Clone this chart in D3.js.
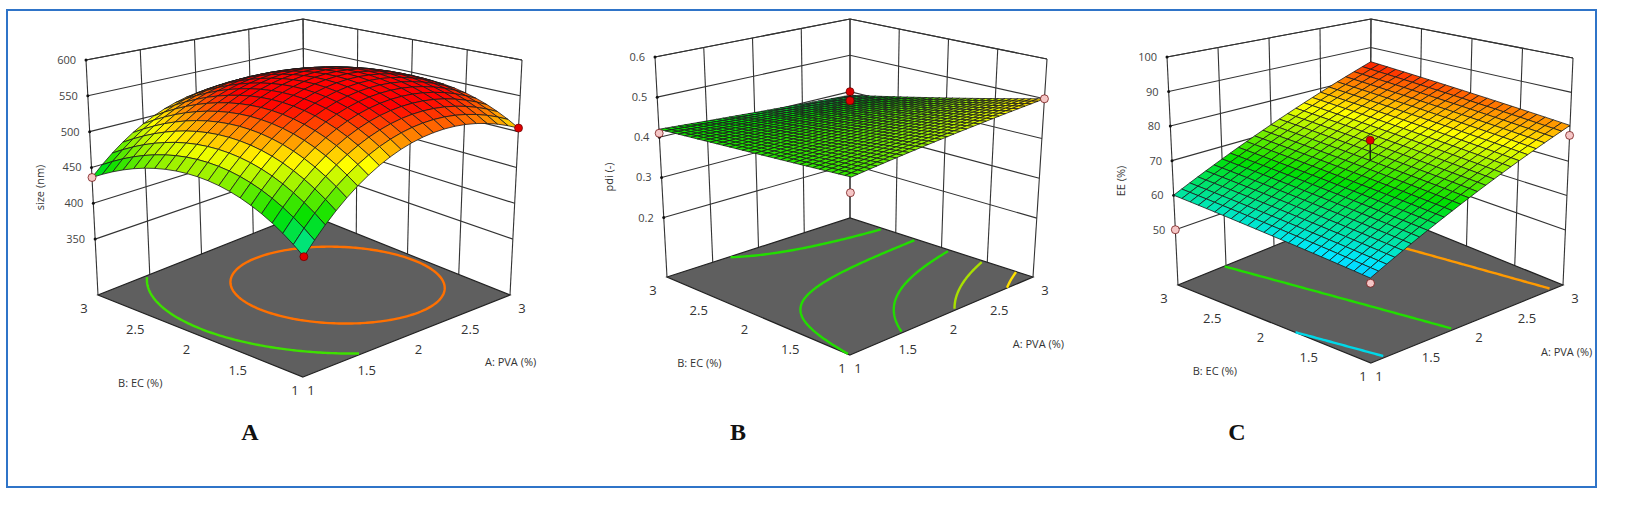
<!DOCTYPE html>
<html><head><meta charset="utf-8">
<script src="https://cdn.jsdelivr.net/npm/d3@7"></script>
<style>body{margin:0;background:#fff}svg{display:block}</style>
</head><body>
<svg id="c" width="1629" height="514"></svg>
<script>
// ---- data ----
const panelNames = ["A","B","C"];
const aTicks = [1,1.5,2,2.5,3];
const bTicks = [1,1.5,2,2.5,3];
const zTicksA = [350,400,450,500,550,600];
const zTicksB = [0.2,0.3,0.4,0.5,0.6];
const zTicksC = [50,60,70,80,90,100];
const zLabels = ["size (nm)","pdi (-)","EE (%)"];
const aTitles = ["A: PVA (%)","A: PVA (%)","A: PVA (%)"];
const bTitles = ["B: EC (%)","B: EC (%)","B: EC (%)"];
// model coefficients (coded units): b0,b1,b2,b12,b11,b22
const coefA = [570,33.5,-1,-11.5,-60,-51];
const coefB = [0.435,0.01,-0.03,-0.025,0,0];
const coefC = [70.1,12.6,2.4,-0.1,0,0];
const contourLevelsA = [490,548];
const contourColorsA = ["#3ee000","#ff7000"];
const contourLevelsB = [0.41,0.43,0.45,0.47,0.49];
const contourColorsB = ["#22dd00","#22dd00","#22dd00","#a8e000","#ffe000"];
const contourLevelsC = [57,66,79];
const contourColorsC = ["#00d8e8","#22dd00","#ff9a00"];
// design points [A,B,z,kind]
const pointsA = [[1,3,436,"p"],[3,1,505,"r"],[1,1,415,"r"]];
const pointsB = [[1,3,0.41,"p"],[3,1,0.50,"p"],[3,3,0.40,"r"],[3,3,0.375,"r"],[2,2,0.27,"p"]];
const pointsC = [[1,3,50,"p"],[3,1,77.5,"p"],[2,2,76,"r"],[2,2,34.5,"p"]];

// ---- geometry (pixel anchors) ----
const geo = [
 {zmin:272,zmax:600, fb:[303,377],lb:[98,295],rb:[510,295],bb:[305,213], lt:[86,60],rt:[522,60],bt:[303,19], n:20, dom:[352,552], coef:coefA, zt:zTicksA, lev:contourLevelsA, lc:contourColorsA, pts:pointsA, fmt:d3.format("d"), lab:[250,440]},
 {zmin:0.052,zmax:0.6, fb:[850,355],lb:[667,277],rb:[1033,277],bb:[850,218], lt:[655,57],rt:[1047,59],bt:[850,19], n:30, dom:[0.276,0.556], coef:coefB, zt:zTicksB, lev:contourLevelsB, lc:contourColorsB, pts:pointsB, fmt:d3.format(".1f"), lab:[738,440]},
 {zmin:34,zmax:100, fb:[1371,363],lb:[1178,285],rb:[1563,285],bb:[1370,207], lt:[1167,57],rt:[1573,58],bt:[1371,19], n:24, dom:[47,86], coef:coefC, zt:zTicksC, lev:contourLevelsC, lc:contourColorsC, pts:pointsC, fmt:d3.format("d"), lab:[1237,440]}
];
const cmap = d3.scaleLinear().domain([0,0.25,0.5,0.75,1]).range(["#1f4fff","#00e8ff","#00e000","#ffff00","#ff0000"]).clamp(true);
const svg = d3.select("#c");
svg.append("rect").attr("x",7).attr("y",10).attr("width",1589).attr("height",477).attr("fill","none").attr("stroke","#2f74c8").attr("stroke-width",2);

geo.forEach((g,pi)=>{
  g.ft=[g.lt[0]+g.rt[0]-g.bt[0], g.lt[1]+g.rt[1]-g.bt[1]];
  const bil=(F,R,L,B,u,v)=>[0,1].map(i=>(1-u)*(1-v)*F[i]+u*(1-v)*R[i]+(1-u)*v*L[i]+u*v*B[i]);
  const zs = d3.scaleLinear().domain([g.zmin,g.zmax]).range([0,1]);
  const P=(a,b,z)=>{const u=(a-1)/2,v=(b-1)/2;const lo=bil(g.fb,g.rb,g.lb,g.bb,u,v),hi=bil(g.ft,g.rt,g.lt,g.bt,u,v);const w=zs(z);return [lo[0]+w*(hi[0]-lo[0]),lo[1]+w*(hi[1]-lo[1])];};
  const f=(a,b)=>{const x=a-2,y=b-2,c=g.coef;return c[0]+c[1]*x+c[2]*y+c[3]*x*y+c[4]*x*x+c[5]*y*y;};
  const col=d3.scaleLinear().domain(g.dom).range([0,1]);
  const G=svg.append("g");
  const line=d3.line();
  const st=(s)=>s.attr("stroke","#333").attr("stroke-width",1.1).attr("fill","none");
  aTicks.forEach(a=>st(G.append("path").attr("d",line([P(a,3,g.zmin),P(a,3,g.zmax)]))));
  bTicks.forEach(b=>st(G.append("path").attr("d",line([P(3,b,g.zmin),P(3,b,g.zmax)]))));
  g.zt.concat([g.zmax]).forEach(z=>{st(G.append("path").attr("d",line([P(1,3,z),P(3,3,z),P(3,1,z)])));});
  G.append("path").attr("d",line([P(1,1,g.zmin),P(3,1,g.zmin),P(3,3,g.zmin),P(1,3,g.zmin)])+"Z").attr("fill","#5f5f5f").attr("stroke","#222").attr("stroke-width",1.2);
  const N=80,vals=[];
  for(let j=0;j<N;j++)for(let i=0;i<N;i++)vals.push(f(1+2*i/(N-1),1+2*j/(N-1)));
  const cs=d3.contours().size([N,N]).thresholds(g.lev).smooth(true)(vals);
  const proj=d3.geoTransform({point:function(x,y){const a=1+2*Math.min(Math.max(x-0.5,0),N-1)/(N-1),b=1+2*Math.min(Math.max(y-0.5,0),N-1)/(N-1);const p=P(a,b,g.zmin);this.stream.point(p[0],p[1]);}});
  const gp=d3.geoPath(proj);
  cs.forEach(c=>{
    c.coordinates.forEach(poly=>poly.forEach(ring=>{
      let seg=[];const segs=[];
      ring.forEach(pt=>{const onB=pt[0]<=0.51||pt[0]>=N-0.51||pt[1]<=0.51||pt[1]>=N-0.51;if(onB){if(seg.length>1)segs.push(seg);seg=[];}else seg.push(pt);});
      if(seg.length>1)segs.push(seg);
      segs.forEach(s=>G.append("path").attr("d",gp({type:"LineString",coordinates:s})).attr("fill","none").attr("stroke",g.lc[g.lev.indexOf(c.value)]).attr("stroke-width",2.4));
    }));
  });
  const fs=11;
  aTicks.forEach(a=>{const p=P(a,1,g.zmin);G.append("text").attr("x",p[0]+(a==1?8:12)).attr("y",p[1]+18).text(a).attr("font-size",fs+2).attr("fill","#333").attr("font-family","Open Sans").attr("text-anchor","middle");});
  bTicks.forEach(b=>{const p=P(1,b,g.zmin);G.append("text").attr("x",p[0]-(b==1?8:14)).attr("y",p[1]+18).text(b).attr("font-size",fs+2).attr("fill","#333").attr("font-family","Open Sans").attr("text-anchor","middle");});
  const pa=P(2.6,1,g.zmin),pb=P(1,2.1,g.zmin);
  G.append("text").attr("x",pa[0]+42).attr("y",pa[1]+55).text(aTitles[pi]).attr("font-size",fs).attr("fill","#333").attr("font-family","Open Sans").attr("text-anchor","middle");
  G.append("text").attr("x",pb[0]-50).attr("y",pb[1]+55).text(bTitles[pi]).attr("font-size",fs).attr("fill","#333").attr("font-family","Open Sans").attr("text-anchor","middle");
  g.zt.forEach(z=>{const p=P(1,3,z);G.append("text").attr("x",p[0]-10).attr("y",p[1]+4).text(g.fmt(z)).attr("font-size",fs).attr("fill","#444").attr("font-family","Open Sans").attr("text-anchor","end");
    G.append("circle").attr("cx",p[0]).attr("cy",p[1]).attr("r",1.5).attr("fill","#111");});
  const zl=P(1,3,(g.zmin+g.zmax)/2);
  G.append("text").attr("transform",`translate(${zl[0]-48},${zl[1]+10}) rotate(-90)`).text(zLabels[pi]).attr("font-size",fs).attr("fill","#333").attr("font-family","Open Sans").attr("text-anchor","middle");
  const n=g.n,cells=[];
  for(let i=0;i<n;i++)for(let j=0;j<n;j++){const a0=1+2*i/n,a1=1+2*(i+1)/n,b0=1+2*j/n,b1=1+2*(j+1)/n;cells.push({a0,a1,b0,b1,d:i+j});}
  cells.sort((x,y)=>y.d-x.d);
  cells.forEach(c=>{const pts=[[c.a0,c.b0],[c.a1,c.b0],[c.a1,c.b1],[c.a0,c.b1]].map(q=>P(q[0],q[1],f(q[0],q[1])));
    const zc=f((c.a0+c.a1)/2,(c.b0+c.b1)/2);
    G.append("path").attr("d",line(pts)+"Z").attr("fill",cmap(col(zc))).attr("stroke","#1a1a1a").attr("stroke-width",0.8).attr("stroke-linejoin","round");});
  g.pts.forEach(q=>{const p=P(q[0],q[1],q[2]),s=P(q[0],q[1],f(q[0],q[1]));
    if(q[2]>=f(q[0],q[1])-1e-9||q[3]=="r") G.append("path").attr("d",line([p,s])).attr("stroke","#111").attr("stroke-width",1.3);
    G.append("circle").attr("cx",p[0]).attr("cy",p[1]).attr("r",4).attr("fill",q[3]=="r"?"#e00000":"#f5c6c6").attr("stroke","#600").attr("stroke-width",0.7);});
  G.append("text").attr("x",g.lab[0]).attr("y",g.lab[1]).text(panelNames[pi]).attr("font-family","Liberation Serif").attr("font-weight","bold").attr("font-size",24).attr("fill","#111").attr("text-anchor","middle");
});
</script>
</body></html>
